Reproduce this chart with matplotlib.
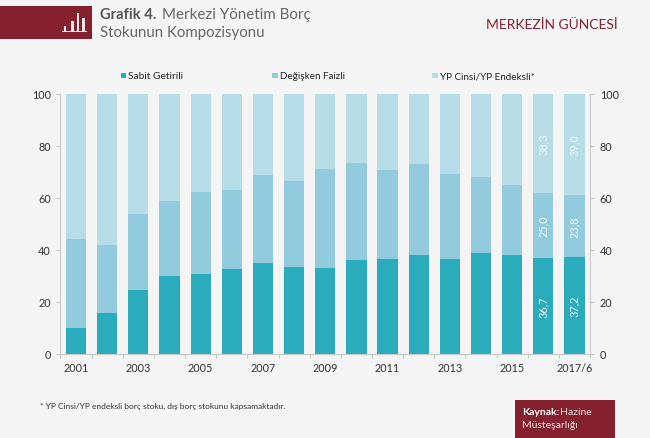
import numpy as np
import matplotlib
matplotlib.use('Agg')
import matplotlib.pyplot as plt
from matplotlib.patches import Rectangle

plt.rcParams['font.family'] = ['Lato', 'DejaVu Sans']

# Data
years = ['2001', '2002', '2003', '2004', '2005', '2006', '2007', '2008', '2009',
         '2010', '2011', '2012', '2013', '2014', '2015', '2016', '2017/6']
sabit = [10.0, 15.5, 24.5, 30.0, 30.5, 32.5, 35.0, 33.3, 33.0,
         36.0, 36.3, 38.0, 36.3, 38.5, 37.8, 36.7, 37.2]
degisken = [34.0, 26.3, 29.3, 28.5, 31.8, 30.5, 33.5, 33.0, 38.0,
            37.3, 34.2, 35.0, 32.7, 29.3, 27.2, 25.0, 23.8]
yp = [56.0, 58.2, 46.2, 41.5, 37.7, 37.0, 31.5, 33.7, 29.0,
      26.7, 29.5, 27.0, 31.0, 32.2, 35.0, 38.3, 39.0]
value_labels = {15: ['36,7', '25,0', '38,3'], 16: ['37,2', '23,8', '39,0']}
series_names = ['Sabit Getirili', 'Değişken Faizli', 'YP Cinsi/YP Endeksli*']

BG = '#f5f5f5'
RED = '#85202e'
COLORS = ['#2bacbd', '#92cbde', '#b7dde8']
W, H = 650, 439

fig = plt.figure(figsize=(W / 100, H / 100), dpi=100, facecolor=BG)

# overlay in pixel coordinates for the header and footer furniture
bg = fig.add_axes([0, 0, 1, 1], zorder=0)
bg.set_xlim(0, W)
bg.set_ylim(H, 0)
bg.axis('off')
bg.add_patch(Rectangle((0, 7), 92, 33, color=RED, lw=0))
for x, top in zip([63.5, 71, 76.5, 82], [27, 22, 14, 19]):
    bg.add_patch(Rectangle((x, top), 2.6, 32 - top, color='#f3e6e8', lw=0))
bg.add_patch(Rectangle((61.5, 32), 25.5, 1.2, color='#f3e6e8', lw=0))
bg.text(99.5, 15, 'Grafik 4.', fontsize=10.6, fontweight='bold', color='#555555', va='center')
bg.text(162, 15, 'Merkezi Yönetim Borç', fontsize=10.9, color='#666666', va='center')
bg.text(99.5, 33, 'Stokunun Kompozisyonu', fontsize=10.8, color='#666666', va='center')
bg.text(618, 25, 'MERKEZİN GÜNCESİ', fontsize=10, color=RED, va='center', ha='right')
bg.text(40, 406.5, '* YP Cinsi/YP endeksli borç stoku, dış borç stokunu kapsamaktadır.',
        fontsize=6.0, color='#333333', va='center')
bg.add_patch(Rectangle((515, 401), 100, 38, color=RED, lw=0))
bg.text(522, 413, 'Kaynak:', fontsize=7.5, fontweight='bold', color='white', va='center')
bg.text(560, 413, 'Hazine', fontsize=7.5, color='#f0dfe1', va='center')
bg.text(522, 426, 'Müsteşarlığı', fontsize=7.5, color='#f0dfe1', va='center')

# chart area
left, right, top, bottom = 60.5, 590, 94.5, 354.5
ax = fig.add_axes([left / W, 1 - bottom / H, (right - left) / W, (bottom - top) / H], zorder=1)
ax.patch.set_alpha(0)
x = np.arange(len(years))
s = np.array(sabit)
d = np.array(degisken)
y = np.array(yp)
ax.bar(x, s, width=0.65, color=COLORS[0], label=series_names[0])
ax.bar(x, d, width=0.65, bottom=s, color=COLORS[1], label=series_names[1])
ax.bar(x, y, width=0.65, bottom=s + d, color=COLORS[2], label=series_names[2])

for i, labels in value_labels.items():
    bases = [s[i] / 2, s[i] + d[i] / 2, s[i] + d[i] + y[i] / 2]
    for pos, txt in zip(bases, labels):
        ax.text(i, pos, txt, rotation=90, ha='center', va='center', fontsize=7.8, color='#f2fafb')

ax.set_xlim(-0.5, len(years) - 0.5)
ax.set_ylim(0, 100)
ax.set_yticks(range(0, 101, 20))
ax.set_xticks(np.arange(len(years) + 1) - 0.5)
ax.set_xticklabels([])
for i in range(0, len(years), 2):
    ax.text(i, -3.2, years[i], ha='center', va='top', fontsize=7.8, color='#333333')
ax.tick_params(axis='x', length=3, color='#c8c8c8')
ax.tick_params(axis='y', length=3, color='#c8c8c8', labelsize=7.8, labelcolor='#333333',
               left=True, right=True, labelleft=True, labelright=True, pad=4)
ax.spines['top'].set_visible(False)
for side in ['left', 'right', 'bottom']:
    ax.spines[side].set_color('#c8c8c8')
    ax.spines[side].set_linewidth(0.8)

# legend placed by hand so the three entries sit where they do in the original
for lx, name, col, fs in zip([120.5, 272, 432], series_names, COLORS, [7.3, 7.1, 7.1]):
    bg.add_patch(Rectangle((lx, 73.5), 5.5, 5.5, color=col, lw=0))
    bg.text(lx + 8, 76.5, name, fontsize=fs, color='#222222', va='center')

fig.savefig('out.png', dpi=100, facecolor=BG)
